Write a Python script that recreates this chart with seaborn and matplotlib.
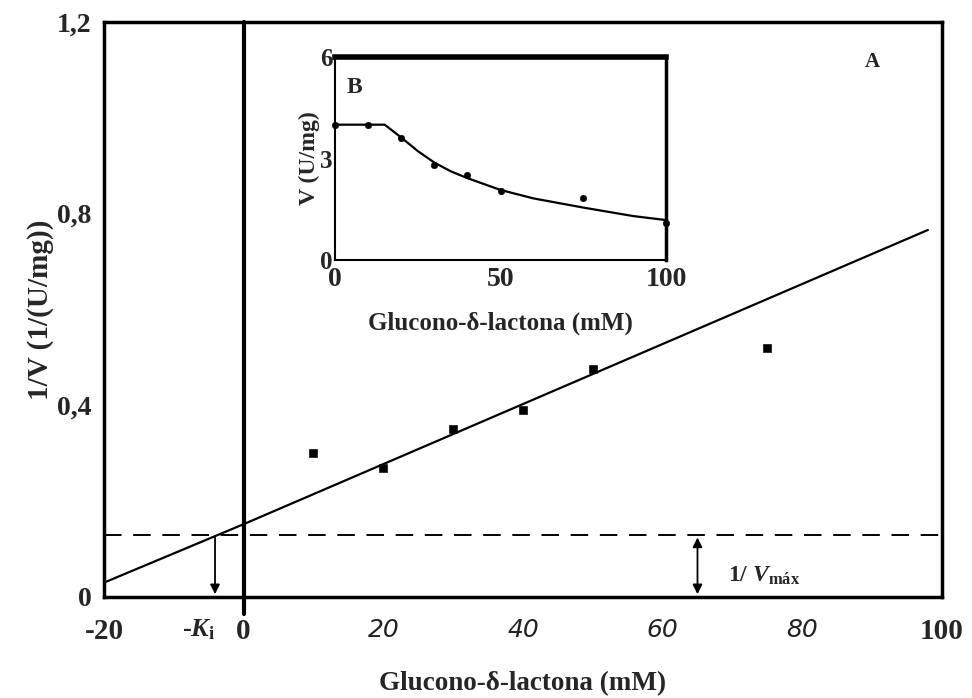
import seaborn as sns
import matplotlib.pyplot as plt
import pandas as pd

# main plot: 1/V vs inhibitor
conc = [10, 20, 30, 40, 50, 75]
inv_v = [0.30, 0.27, 0.35, 0.39, 0.475, 0.52]
fit_x = [-20, 0, 98]
fit_y = [0.03, 0.152, 0.766]
inv_vmax = 0.13
ki = -4.1
vmax_arrow_x = 65

# inset: V vs inhibitor
conc_b = [0, 10, 20, 30, 40, 50, 75, 100]
v_b = [4.0, 4.0, 3.62, 2.8, 2.5, 2.03, 1.83, 1.1]
curve_x = [0, 15, 20, 25, 30, 35, 40, 50, 60, 75, 90, 100]
curve_y = [4.0, 4.0, 3.62, 3.22, 2.88, 2.62, 2.42, 2.07, 1.82, 1.55, 1.3, 1.18]

xticks = [-20, ki, 0, 20, 40, 60, 80, 100]
xtick_labels = ['-20', r'-$K_\mathrm{i}$', '0', '20', '40', '60', '80', '100']
yticks = [0, 0.4, 0.8, 1.2]
ytick_labels = ['0', '0,4', '0,8', '1,2']

sns.set_style('white')
plt.rcParams['font.family'] = ['Liberation Serif', 'DejaVu Serif']
plt.rcParams['mathtext.fontset'] = 'custom'
plt.rcParams['mathtext.it'] = 'Liberation Serif:italic:bold'
plt.rcParams['mathtext.rm'] = 'Liberation Serif:bold'
plt.rcParams['mathtext.bf'] = 'Liberation Serif:bold'

fig = plt.figure(figsize=(9.72, 6.98), dpi=100)
ax = fig.add_axes([0.107, 0.1447, 0.862, 0.8238])

df = pd.DataFrame({'x': conc, 'y': inv_v})
sns.scatterplot(data=df, x='x', y='y', marker='s', s=30, color='black', edgecolor='black', ax=ax, zorder=5)
sns.lineplot(x=fit_x, y=fit_y, color='black', lw=1.6, ax=ax, sort=False)
ax.axhline(inv_vmax, color='black', lw=1.4, linestyle=(0, (9, 6)))
ax.axvline(0, ymin=-0.03, ymax=1, color='black', lw=3, clip_on=False)

ax.annotate('', xy=(ki, 0), xytext=(ki, inv_vmax),
            arrowprops=dict(arrowstyle='-|>', color='black', lw=1.3, mutation_scale=14))
ax.annotate('', xy=(vmax_arrow_x, 0), xytext=(vmax_arrow_x, inv_vmax),
            arrowprops=dict(arrowstyle='<|-|>', color='black', lw=1.3, mutation_scale=14))
ax.text(vmax_arrow_x + 4.3, 0.045, r'1/ $V_\mathrm{máx}$', fontsize=17, fontweight='bold', va='center')
ax.text(90, 1.117, 'A', fontsize=15, fontweight='bold', ha='center', va='center')

ax.set_xlim(-20, 100)
ax.set_ylim(0, 1.2)
ax.set_xticks(xticks)
ax.set_xticklabels(xtick_labels)
ax.set_yticks(yticks)
ax.set_yticklabels(ytick_labels, fontsize=20, fontweight='bold')
ax.tick_params(length=0)
ax.tick_params(axis='x', pad=15)
ax.tick_params(axis='y', pad=9)
for lab in ax.get_xticklabels():
    t = lab.get_text()
    if t in ['20', '40', '60', '80']:
        lab.set_fontfamily('DejaVu Sans')
        lab.set_fontstyle('italic')
        lab.set_fontsize(18)
        lab.set_color('#222222')
    elif 'K' in t:
        lab.set_fontsize(19)
        lab.set_fontweight('bold')
        lab.set_horizontalalignment('right')
    else:
        lab.set_fontsize(21)
        lab.set_fontweight('bold')
ax.set_xlabel('Glucono-δ-lactona (mM)', fontsize=19.5, fontweight='bold', labelpad=19)
ax.set_ylabel('1/V (1/(U/mg))', fontsize=21, fontweight='bold', labelpad=2)
for s in ax.spines.values():
    s.set_linewidth(2.5)
    s.set_color('black')

# inset
axb = fig.add_axes([0.3447, 0.6275, 0.3405, 0.2908])
dfb = pd.DataFrame({'x': conc_b, 'y': v_b})
sns.scatterplot(data=dfb, x='x', y='y', marker='o', s=22, color='black', edgecolor='black', ax=axb, zorder=5, clip_on=False)
sns.lineplot(x=curve_x, y=curve_y, color='black', lw=1.6, ax=axb)
axb.set_xlim(0, 100)
axb.set_ylim(0, 6)
axb.set_xticks([0, 50, 100])
axb.set_yticks([0, 3, 6])
axb.set_xticklabels(['0', '50', '100'], fontsize=20, fontweight='bold')
axb.set_yticklabels(['0', '3', '6'], fontsize=18, fontweight='bold')
axb.tick_params(length=0)
axb.tick_params(axis='x', pad=5)
axb.tick_params(axis='y', pad=2)
axb.set_xlabel('Glucono-δ-lactona (mM)', fontsize=18, fontweight='bold', labelpad=14)
axb.set_ylabel('V (U/mg)', fontsize=17, fontweight='bold', labelpad=0)
axb.text(6, 5.1, 'B', fontsize=17, fontweight='bold', ha='center', va='center')
axb.spines['top'].set_linewidth(4)
axb.spines['right'].set_linewidth(2.5)
axb.spines['left'].set_linewidth(1.5)
axb.spines['bottom'].set_linewidth(1.5)
for s in axb.spines.values():
    s.set_color('black')

fig.savefig('out.png', dpi=100)
